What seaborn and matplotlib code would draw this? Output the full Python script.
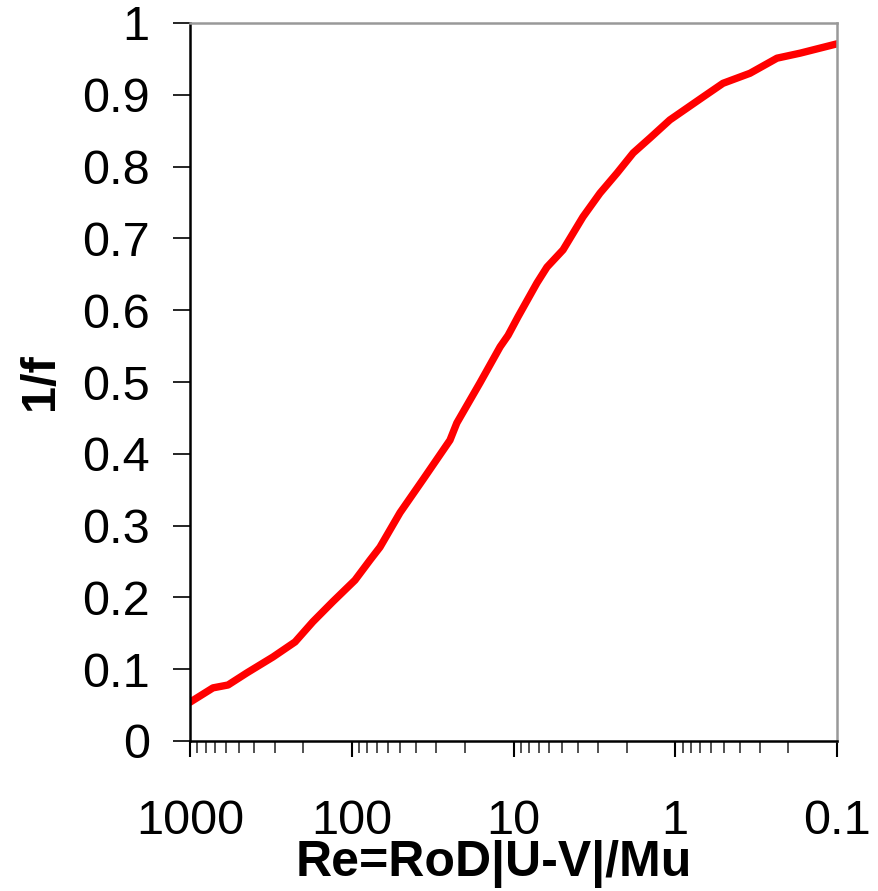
import matplotlib
matplotlib.use("Agg")
import matplotlib.pyplot as plt
import matplotlib.ticker as mticker
import numpy as np
import pandas as pd
import seaborn as sns

# Data
re_values = [1000, 721, 582, 444, 307, 224, 174, 131, 95.5, 77.1, 66.9, 50.3, 36.3,
             24.7, 22.4, 16.1, 12.1, 10.8, 9.37, 7.16, 6.21, 4.94, 3.72, 2.92, 2.29,
             1.82, 1.43, 1.08, 0.673, 0.507, 0.345, 0.235, 0.169, 0.1]
inv_f = [0.054, 0.074, 0.078, 0.095, 0.117, 0.138, 0.166, 0.194, 0.224, 0.252, 0.270,
         0.318, 0.364, 0.419, 0.443, 0.499, 0.549, 0.565, 0.591, 0.638, 0.660, 0.684,
         0.730, 0.763, 0.791, 0.819, 0.840, 0.865, 0.897, 0.916, 0.930, 0.951, 0.958,
         0.971]
x_ticks = [1000, 100, 10, 1, 0.1]
x_tick_labels = ["1000", "100", "10", "1", "0.1"]
y_ticks = [0, 0.1, 0.2, 0.3, 0.4, 0.5, 0.6, 0.7, 0.8, 0.9, 1.0]
y_tick_labels = ["0", "0.1", "0.2", "0.3", "0.4", "0.5", "0.6", "0.7", "0.8", "0.9", "1"]

df = pd.DataFrame({"Re": re_values, "invf": inv_f})

sns.set_style("white")
plt.rcParams["font.family"] = ["Liberation Sans", "DejaVu Sans"]
plt.rcParams["text.color"] = "black"
plt.rcParams["axes.labelcolor"] = "black"
plt.rcParams["xtick.color"] = "black"
plt.rcParams["ytick.color"] = "black"

fig = plt.figure(figsize=(8.79, 8.91), dpi=100)
ax = fig.add_axes([190 / 879, 1 - 741 / 891, (837 - 190) / 879, (741 - 23) / 891])

sns.lineplot(data=df, x="Re", y="invf", ax=ax, color="#ff0000", linewidth=5.3, sort=False)

ax.set_xscale("log")
ax.set_xlim(1000, 0.1)
ax.set_ylim(0, 1)

ax.xaxis.set_major_locator(mticker.FixedLocator(x_ticks))
ax.set_xticklabels(x_tick_labels)
ax.xaxis.set_minor_locator(mticker.LogLocator(base=10, subs=np.arange(2, 10)))
ax.xaxis.set_minor_formatter(mticker.NullFormatter())
ax.yaxis.set_major_locator(mticker.FixedLocator(y_ticks))
ax.set_yticklabels(y_tick_labels)

ax.tick_params(axis="x", which="major", direction="out", length=11.5, width=1.5,
               color="black", labelcolor="black", labelsize=35, pad=30, bottom=True)
ax.tick_params(axis="x", which="minor", direction="out", length=8.5, width=1.2,
               color="#333333", bottom=True)
ax.tick_params(axis="y", which="major", direction="out", length=12, width=1.2,
               color="black", labelcolor="black", labelsize=35, pad=17, left=True)

for side in ["left", "bottom"]:
    ax.spines[side].set_color("black")
    ax.spines[side].set_linewidth(1.8)
for side in ["top", "right"]:
    ax.spines[side].set_color("#999999")
    ax.spines[side].set_linewidth(1.8)

ax.set_xlabel("Re=RoD|U-V|/Mu", fontsize=36, fontweight="bold", color="black")
ax.xaxis.set_label_coords((494 - 190) / (837 - 190), -0.138)
ax.set_ylabel("1/f", fontsize=35, fontweight="bold", labelpad=14, color="black")

fig.savefig("out.png", dpi=100, facecolor="white")
